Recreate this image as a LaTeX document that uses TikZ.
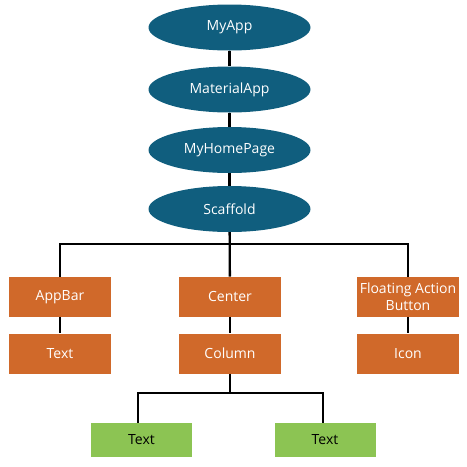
\documentclass[tikz,border=0pt]{standalone}
\usepackage{fontspec}
\setmainfont{Open Sans}
\usetikzlibrary{shapes.geometric}
\definecolor{teal}{HTML}{105E7E}
\definecolor{orng}{HTML}{D0692A}
\definecolor{grn}{HTML}{8CC453}
\begin{document}
\begin{tikzpicture}[x=1pt,y=-1pt,
  lbl/.style={font=\fontsize{14}{17.5}\selectfont},
  ell/.style={lbl,ellipse,fill=teal,text=white,minimum width=162pt,minimum height=46pt,inner sep=0pt},
  obox/.style={lbl,rectangle,fill=orng,text=white,minimum width=102pt,minimum height=40pt,inner sep=0pt,align=center},
  gbox/.style={lbl,rectangle,fill=grn,text=black,minimum width=101pt,minimum height=34pt,inner sep=0pt},
  conn/.style={draw=black,line width=2.3pt}]
\useasboundingbox (0,0) rectangle (467,467);
\node[ell] (myapp) at (229.5,27.5) {MyApp};
\node[ell] (mat) at (229.5,89.5) {MaterialApp};
\node[ell] (home) at (229.5,150) {MyHomePage};
\node[ell] (scaf) at (229.5,209) {Scaffold};
\node[obox] (appbar) at (60,296.7) {AppBar};
\node[obox] (center) at (230,296.7) {Center};
\node[obox] (fab) at (408,296.7) {Floating Action\\Button};
\node[obox] (text1) at (60,353.5) {Text};
\node[obox] (column) at (230,353.5) {Column};
\node[obox] (icon) at (408,353.5) {Icon};
\node[gbox] (text2) at (141.5,440) {Text};
\node[gbox] (text3) at (325,440) {Text};
\coordinate (bar) at (230,244);
\coordinate (bar2) at (230,393);
\draw[conn] (myapp) -- (mat);
\draw[conn] (mat) -- (home);
\draw[conn] (home) -- (scaf);
\draw[conn] (scaf) -- (center);
\draw[conn] (appbar.north) |- (bar) -| (fab.north);
\draw[conn] (appbar) -- (text1);
\draw[conn] (center) -- (column);
\draw[conn] (fab) -- (icon);
\draw[conn] (column) -- (bar2);
\draw[conn] (text2.north -| 138,0) |- (bar2) -| (text3.north -| 323,0);
\end{tikzpicture}
\end{document}
